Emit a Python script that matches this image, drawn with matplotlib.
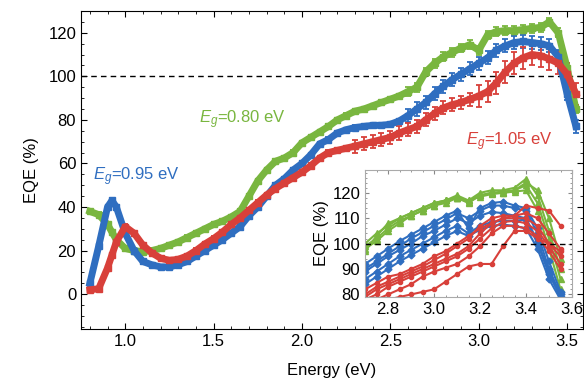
'''
EQE spectra for three band gaps, with a zoom of the high energy end as inset
'''

import numpy as np
import matplotlib
matplotlib.use('Agg')
import matplotlib.pyplot as plt

plt.rcParams['font.family'] = ['Liberation Sans', 'DejaVu Sans']
plt.rcParams['mathtext.fontset'] = 'custom'
plt.rcParams['mathtext.rm'] = 'Liberation Sans'
plt.rcParams['mathtext.it'] = 'Liberation Sans:italic'

#%% Data

energy = [0.80, 0.85, 0.90, 0.925, 0.95, 1.00, 1.05, 1.10, 1.15, 1.20, 1.25,
          1.30, 1.35, 1.40, 1.45, 1.50, 1.55, 1.60, 1.65, 1.70, 1.75,
          1.80, 1.85, 1.90, 1.95, 2.00, 2.05, 2.10, 2.15, 2.20, 2.25,
          2.30, 2.35, 2.40, 2.45, 2.50, 2.55, 2.60, 2.65, 2.70, 2.75,
          2.80, 2.85, 2.90, 2.95, 3.00, 3.05, 3.10, 3.15, 3.20, 3.25,
          3.30, 3.35, 3.40, 3.45, 3.50, 3.55]

# Eg = 0.80 eV
eqe_080 = [38, 36.5, 32, 28.5, 25, 21, 20, 19.5, 20, 21, 22.5,
           24, 26, 28, 30, 32, 33.5, 35.5, 38, 45, 52,
           57, 61, 62.5, 65, 69.5, 72, 74.5, 77, 80, 82,
           84, 85, 86.5, 88, 89.5, 91, 93, 95, 102, 106,
           109, 111, 113, 114.5, 112, 119, 120.5, 121, 121, 121.5,
           122, 122.5, 125, 120, 104, 85]
err_080 = [1]*37 + [2]*20

# Eg = 0.95 eV
eqe_095 = [5, 22, 40, 43, 40, 28, 20, 15, 13.5, 12.5, 12.5,
           13.5, 15, 17.5, 20, 22.5, 25, 28, 31, 36, 40,
           45, 50, 53, 57, 60, 64, 69, 71, 74, 75.5,
           76.5, 77, 77.5, 77.5, 78, 79.5, 82, 85, 88, 92,
           95.5, 98.5, 101, 103.5, 106, 108.5, 112, 114, 115.5, 116,
           115.5, 115, 114, 109, 92, 77]
err_095 = [1]*37 + [3]*20

# Eg = 1.05 eV
eqe_105 = [2, 2.5, 12, 18, 24, 31, 28, 22.5, 19, 16.5, 15.5,
           16, 17.5, 20, 23, 25.5, 28.5, 32, 35, 38.5, 42,
           45.5, 48.5, 51, 53.5, 56, 59, 62.5, 65, 66, 67,
           68, 69, 70, 71, 72, 74, 75.5, 77, 80, 83,
           85.5, 87, 88, 89.5, 91, 93, 97, 102, 106, 108.5,
           110, 109.5, 108, 106, 101, 92]
err_105 = [1]*31 + [3]*14 + [5]*12

# inset: single devices
inset_energy = [2.70, 2.75, 2.80, 2.85, 2.90, 2.95, 3.00, 3.05, 3.10,
                3.15, 3.20, 3.25, 3.30, 3.35, 3.40, 3.45, 3.50, 3.55]

green_devices = [
    [97, 103, 108, 110, 112, 114, 116, 117, 118, 116, 119, 120, 120.5, 121, 124, 121, 110, 94],
    [100, 104, 107, 110, 112, 114, 116, 117, 119, 117, 120, 121, 121, 122, 125.5, 119, 105, 90],
    [98, 101, 105, 108, 111, 113, 115, 116, 118, 116.5, 119, 120, 120, 121, 123, 116, 102, 86],
    [99, 102, 106, 109, 111, 113, 115, 117, 118, 117, 118.5, 119.5, 120, 120.5, 121, 113, 98, 82],
]
blue_devices = [
    [92, 95, 98, 101, 103.5, 106, 108.5, 111, 113, 106, 114, 116, 116.5, 115, 114, 106, 93, 81],
    [90, 93, 96, 99, 102, 104.5, 107, 109.5, 112, 110, 113, 115, 115, 114, 113, 104, 90, 80],
    [89, 92, 95, 97.5, 100, 103, 105, 107.5, 110, 108, 111, 112.5, 112, 111, 110, 101, 89, 79],
    [86, 89, 92, 95, 97.5, 100, 102.5, 105, 107, 104, 107, 108.5, 109, 109, 109.5, 100, 88, 79],
    [84, 87, 90, 93, 95.5, 98, 100.5, 103, 105, 103, 105.5, 107, 107.5, 107, 106, 98, 86, 78],
]
red_devices = [
    [82, 84.5, 87, 88, 90, 92, 95, 97, 100, 103, 106, 108, 110, 111, 115, 114, 113, 107],
    [80, 83, 85, 87, 89, 91, 93.5, 96, 99, 102, 107, 110, 111, 111, 112, 110, 104, 98],
    [79, 82, 84, 86, 88, 90, 92, 94, 96, 99, 104, 108, 110, 110, 110, 107, 100, 95],
    [78, 80, 83, 85, 87, 89, 91, 93, 95, 98, 102, 106, 108.5, 109, 108, 105, 99, 92],
    [77, 78, 80, 82, 84, 87, 89, 90.5, 92, 95, 99, 104, 107, 107, 106, 103, 97, 90],
    [75, 76, 78, 79, 80, 81, 82, 85, 88, 91, 92, 92, 99, 105, 105, 102, 100, 97],
]

green = '#79b63f'
blue = '#2f6ec0'
red = '#d8403a'

#%% Main plot

fig = plt.figure(figsize=(5.84, 3.78), dpi=100)
ax = fig.add_axes([0.1387, 0.1296, 0.8596, 0.8413])

for y, e, c in [(eqe_080, err_080, green), (eqe_095, err_095, blue), (eqe_105, err_105, red)]:
    ax.errorbar(energy, y, yerr=e, fmt='-s', color=c, lw=5, ms=5,
                elinewidth=1.3, capsize=2.5, capthick=1.3)

ax.axhline(100, color='black', ls=(0, (4, 3)), lw=1)

ax.set_xlim(0.75, 3.59)
ax.set_ylim(-16, 130)
ax.set_xticks([1.0, 1.5, 2.0, 2.5, 3.0, 3.5])
ax.set_yticks([0, 20, 40, 60, 80, 100, 120])
ax.minorticks_on()
ax.tick_params(which='both', direction='in', top=True, right=True, labelsize=12)
ax.tick_params(which='major', length=4)
ax.tick_params(which='minor', length=2)
ax.set_xlabel('Energy (eV)', fontsize=12, labelpad=10)
ax.set_ylabel('EQE (%)', fontsize=12, labelpad=7)

ax.text(1.42, 80, '$E_g$=0.80 eV', color=green, fontsize=12, va='center')
ax.text(0.82, 54, '$E_g$=0.95 eV', color=blue, fontsize=12, va='center')
ax.text(2.93, 70, '$E_g$=1.05 eV', color=red, fontsize=12, va='center')

#%% Inset

ins = fig.add_axes([0.625, 0.2143, 0.3545, 0.336])
for y in green_devices:
    ins.plot(inset_energy, y, '-^', color=green, lw=1.5, ms=4)
for y in blue_devices:
    ins.plot(inset_energy, y, '-D', color=blue, lw=1.5, ms=3.5)
for y in red_devices:
    ins.plot(inset_energy, y, '-o', color=red, lw=1.5, ms=3)
ins.axhline(100, color='black', ls=(0, (4, 3)), lw=1)

ins.set_xlim(2.7, 3.6)
ins.set_ylim(79, 129)
ins.set_xticks([2.8, 3.0, 3.2, 3.4, 3.6])
ins.set_yticks([80, 90, 100, 110, 120])
ins.minorticks_on()
ins.tick_params(which='both', direction='in', top=True, right=True, labelsize=12,
                color='#888888')
ins.tick_params(which='major', length=3)
ins.tick_params(which='minor', length=1.5)
for s in ins.spines.values():
    s.set_color('#aaaaaa')
ins.set_ylabel('EQE (%)', fontsize=12, labelpad=2)

fig.savefig('out.png', dpi=100)
plt.close(fig)
